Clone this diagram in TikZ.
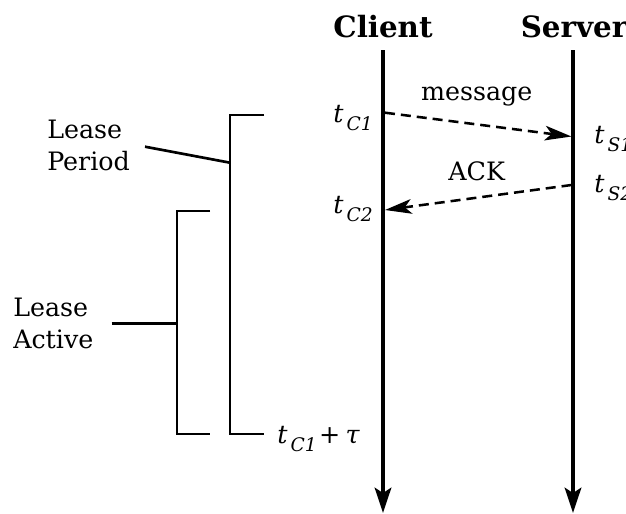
\documentclass[tikz,border=0pt]{standalone}
\usepackage{fontspec}
\setmainfont{DejaVu Serif}
\usetikzlibrary{arrows.meta}
\newcommand\tlab[1]{\textit{t}\hspace{0.12em}\raisebox{-6pt}{\fontsize{14}{14}\selectfont\itshape #1}}
\begin{document}
\begin{tikzpicture}[x=0.75pt,y=-0.75pt,
  life/.style={line width=2.3pt,-{Stealth[length=19pt,width=12.5pt,inset=4pt]}},
  msg/.style={line width=1.9pt,dash pattern=on 7.5pt off 4.5pt,-{Stealth[length=20pt,width=11pt,inset=5pt]}},
  brk/.style={line width=2pt},
  lbl/.style={font=\fontsize{19}{24}\selectfont,inner sep=0pt},
  ttl/.style={font=\fontsize{22}{26}\selectfont\bfseries,inner sep=0pt},
  tl/.style={font=\fontsize{19}{24}\selectfont,inner sep=0pt,anchor=base west}]
\useasboundingbox (0,0) rectangle (626,514);
% titles
\node[ttl,anchor=base] (client) at (383,37) {Client};
\node[ttl,anchor=base] (server) at (574,37) {Server};
% lifelines
\coordinate (c0) at (383,50);
\coordinate (c1) at (383,513);
\coordinate (s0) at (573,50);
\coordinate (s1) at (573,513);
\draw[life] (c0) -- (c1);
\draw[life] (s0) -- (s1);
% message arrows
\coordinate (m0) at (385,112.7);
\coordinate (m1) at (571.5,136.5);
\coordinate (a0) at (571.5,185);
\coordinate (a1) at (385,210);
\draw[msg] (m0) -- (m1);
\draw[msg] (a0) -- (a1);
\node[lbl,anchor=base] (message) at (476.7,100.7) {message};
\node[lbl,anchor=base] (ack) at (476.7,180) {ACK};
% time labels
\node[tl] (tc1) at (333,122.7) {\tlab{C1}};
\node[tl] (tc2) at (333,213) {\tlab{C2}};
\node[tl] (ts1) at (594,143) {\tlab{S1}};
\node[tl] (ts2) at (594,192) {\tlab{S2}};
\node[tl] (tct) at (277,443) {\tlab{C1}\hspace{0.1em}+\hspace{0.2em}\textit{τ}};
% Lease Period bracket
\coordinate (p0) at (264,115);
\coordinate (p1) at (230,115);
\coordinate (p2) at (230,434);
\coordinate (p3) at (264,434);
\coordinate (pm) at (230,162.7);
\draw[brk] (p0) -- (p1) -- (p2) -- (p3);
% Lease Active bracket
\coordinate (q0) at (210,211);
\coordinate (q1) at (177,211);
\coordinate (q2) at (177,434);
\coordinate (q3) at (210,434);
\coordinate (qm) at (177,323.3);
\draw[brk] (q0) -- (q1) -- (q2) -- (q3);
% labels
\node[lbl,anchor=base west,align=left] (period) at (47,170) {Lease\\Period};
\node[lbl,anchor=base west,align=left] (active) at (13,348) {Lease\\Active};
\coordinate (pe) at (145,146.7);
\coordinate (ae) at (111.7,323.3);
\draw[brk] (pe) -- (pm);
\draw[brk] (ae) -- (qm);
\end{tikzpicture}
\end{document}
